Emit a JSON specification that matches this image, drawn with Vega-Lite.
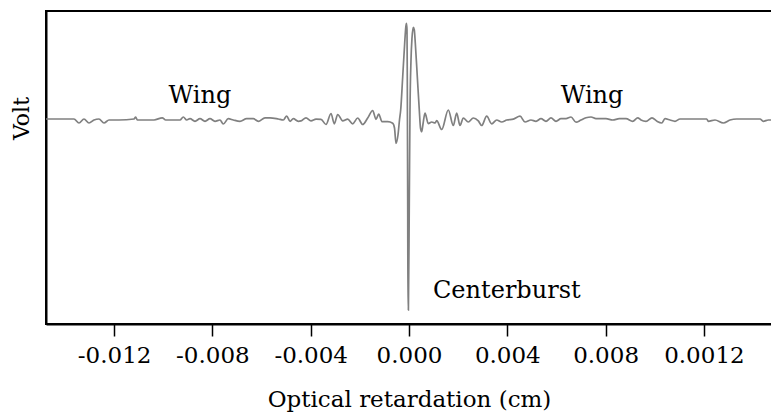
{
  "$schema": "https://vega.github.io/schema/vega-lite/v6.json",
  "width": 726,
  "height": 313,
  "autosize": {"type": "none"},
  "padding": {"left": 46, "top": 11, "right": 0, "bottom": 92},
  "background": "white",
  "config": {"view": {"stroke": "black", "strokeWidth": 2}, "font": "DejaVu Serif"},
  "layer": [
    {
      "data": {"values": [
        {"x": -0.014771, "v": 0.01}, {"x": -0.014718, "v": 0.01}, {"x": -0.013632, "v": 0.01},
        {"x": -0.013428, "v": -0.03}, {"x": -0.013225, "v": 0.01}, {"x": -0.013021, "v": -0.03},
        {"x": -0.012818, "v": 0}, {"x": -0.012615, "v": 0.01}, {"x": -0.012411, "v": -0.03},
        {"x": -0.012208, "v": 0}, {"x": -0.011801, "v": 0}, {"x": -0.01119, "v": 0.01},
        {"x": -0.011121, "v": 0.03}, {"x": -0.011056, "v": 0}, {"x": -0.010376, "v": 0},
        {"x": -0.010039, "v": 0.022}, {"x": -0.0099, "v": 0}, {"x": -0.009563, "v": 0},
        {"x": -0.009318, "v": 0}, {"x": -0.009184, "v": 0.03}, {"x": -0.009046, "v": 0},
        {"x": -0.008912, "v": 0.013}, {"x": -0.008708, "v": -0.013}, {"x": -0.008505, "v": 0.013},
        {"x": -0.008301, "v": -0.013}, {"x": -0.008098, "v": 0.013}, {"x": -0.007894, "v": -0.013},
        {"x": -0.007691, "v": 0}, {"x": -0.007557, "v": -0.04}, {"x": -0.007353, "v": 0.013},
        {"x": -0.00715, "v": 0}, {"x": -0.006877, "v": -0.013}, {"x": -0.006604, "v": 0.013},
        {"x": -0.006336, "v": 0.013}, {"x": -0.006132, "v": -0.013}, {"x": -0.00586, "v": 0.022},
        {"x": -0.005656, "v": 0.022}, {"x": -0.005318, "v": 0.01}, {"x": -0.005115, "v": 0},
        {"x": -0.004977, "v": 0.04}, {"x": -0.004842, "v": -0.013}, {"x": -0.004708, "v": 0.013},
        {"x": -0.004505, "v": -0.013}, {"x": -0.004395, "v": -0.009}, {"x": -0.004191, "v": 0.022},
        {"x": -0.003988, "v": -0.009}, {"x": -0.003784, "v": 0.009}, {"x": -0.003581, "v": 0.007},
        {"x": -0.003377, "v": -0.045}, {"x": -0.003174, "v": 0.065}, {"x": -0.00304, "v": -0.038},
        {"x": -0.002901, "v": 0.055}, {"x": -0.002698, "v": -0.009}, {"x": -0.002494, "v": 0.009},
        {"x": -0.002291, "v": -0.038}, {"x": -0.002087, "v": 0.02}, {"x": -0.001884, "v": -0.045},
        {"x": -0.001681, "v": 0.02}, {"x": -0.001477, "v": 0.095}, {"x": -0.001343, "v": 0.007},
        {"x": -0.001233, "v": 0.06}, {"x": -0.001099, "v": -0.017}, {"x": -0.000867, "v": -0.017},
        {"x": -0.000663, "v": -0.033}, {"x": -0.00059, "v": -0.08}, {"x": -0.000529, "v": -0.233},
        {"x": -0.000448, "v": -0.15}, {"x": -0.000387, "v": 0}, {"x": -0.000338, "v": 0.1},
        {"x": -0.000256, "v": 0.433}, {"x": -0.000175, "v": 0.77}, {"x": -0.00013, "v": 0.93},
        {"x": -0.000102, "v": 0.967}, {"x": -0.0000814, "v": 0.9}, {"x": -0.0000692, "v": 0.4},
        {"x": -0.0000529, "v": -0.8}, {"x": -0.0000407, "v": -1.9}, {"x": -0.0000244, "v": -1.9},
        {"x": 0.0000122, "v": -0.8}, {"x": 0.0000407, "v": 0.1}, {"x": 0.0000814, "v": 0.6},
        {"x": 0.000122, "v": 0.82}, {"x": 0.000175, "v": 0.927}, {"x": 0.000216, "v": 0.9},
        {"x": 0.000256, "v": 0.77}, {"x": 0.000338, "v": 0.433}, {"x": 0.000419, "v": 0.1},
        {"x": 0.000468, "v": -0.08}, {"x": 0.000517, "v": -0.117}, {"x": 0.00057, "v": -0.04},
        {"x": 0.000651, "v": 0.07}, {"x": 0.000785, "v": -0.036}, {"x": 0.000924, "v": -0.02},
        {"x": 0.001058, "v": -0.03}, {"x": 0.001127, "v": -0.007}, {"x": 0.001331, "v": -0.095},
        {"x": 0.001599, "v": 0.1}, {"x": 0.001803, "v": -0.055}, {"x": 0.001941, "v": 0.07},
        {"x": 0.002075, "v": -0.055}, {"x": 0.00221, "v": 0.02}, {"x": 0.002413, "v": -0.02},
        {"x": 0.002616, "v": 0.02}, {"x": 0.00282, "v": -0.009}, {"x": 0.002958, "v": -0.055},
        {"x": 0.003162, "v": 0.038}, {"x": 0.003365, "v": -0.038}, {"x": 0.003569, "v": 0},
        {"x": 0.003772, "v": -0.02}, {"x": 0.003976, "v": 0}, {"x": 0.004244, "v": 0.009},
        {"x": 0.004517, "v": 0.038}, {"x": 0.00472, "v": -0.02}, {"x": 0.004964, "v": 0},
        {"x": 0.005168, "v": -0.013}, {"x": 0.005371, "v": 0.013}, {"x": 0.005575, "v": -0.013},
        {"x": 0.005778, "v": 0.022}, {"x": 0.005982, "v": -0.013}, {"x": 0.006185, "v": 0.013},
        {"x": 0.006389, "v": 0.013}, {"x": 0.006592, "v": 0.03}, {"x": 0.006796, "v": -0.022},
        {"x": 0.006999, "v": 0}, {"x": 0.007202, "v": 0.022}, {"x": 0.007406, "v": 0.03},
        {"x": 0.007609, "v": 0.013}, {"x": 0.008016, "v": 0.013}, {"x": 0.008289, "v": 0},
        {"x": 0.008558, "v": 0.013}, {"x": 0.00883, "v": 0.013}, {"x": 0.009103, "v": -0.013},
        {"x": 0.009306, "v": 0.022}, {"x": 0.009441, "v": 0}, {"x": 0.009644, "v": -0.013},
        {"x": 0.009888, "v": 0.022}, {"x": 0.010092, "v": -0.013}, {"x": 0.010283, "v": -0.03},
        {"x": 0.010417, "v": 0.013}, {"x": 0.010621, "v": 0}, {"x": 0.010824, "v": -0.013},
        {"x": 0.011028, "v": 0.01}, {"x": 0.012114, "v": 0.01}, {"x": 0.012179, "v": -0.013},
        {"x": 0.012452, "v": 0}, {"x": 0.01279, "v": -0.03}, {"x": 0.013062, "v": 0},
        {"x": 0.013335, "v": 0.01}, {"x": 0.014283, "v": 0.01}, {"x": 0.014417, "v": -0.013},
        {"x": 0.014621, "v": 0}, {"x": 0.014771, "v": 0}
      ]},
      "mark": {"type": "line", "color": "#808080", "strokeWidth": 1.7, "interpolate": "monotone", "clip": true},
      "encoding": {
        "x": {
          "field": "x", "type": "quantitative",
          "scale": {"domain": [-0.014771, 0.014771], "nice": false, "zero": false},
          "axis": {
            "values": [-0.012, -0.008, -0.004, 0, 0.004, 0.008, 0.012],
            "labelExpr": "datum.value > 0.011 ? '0.0012' : (datum.value < 0 ? '-' + format(-datum.value, '.3f') : format(datum.value, '.3f'))",
            "grid": false,
            "domainColor": "black", "domainWidth": 2,
            "tickColor": "black", "tickWidth": 1.5, "tickSize": 12,
            "labelFont": "DejaVu Serif", "labelFontSize": 23, "labelColor": "black", "labelPadding": 8,
            "title": "Optical retardation (cm)",
            "titleFont": "DejaVu Serif", "titleFontSize": 23, "titleFontWeight": "normal", "titleColor": "black", "titlePadding": 21
          }
        },
        "y": {
          "field": "v", "type": "quantitative",
          "scale": {"domain": [-2.04, 1.09], "nice": false, "zero": false},
          "axis": {
            "labels": false, "ticks": false, "grid": false,
            "domainColor": "black", "domainWidth": 2,
            "title": "Volt",
            "titleFont": "DejaVu Serif", "titleFontSize": 22, "titleFontWeight": "normal", "titleColor": "black",
            "titleAngle": 270, "titleAlign": "center", "titleBaseline": "middle",
            "titleX": -25, "titleY": 107
          }
        }
      }
    },
    {
      "data": {"values": [
        {"x": -0.008505, "v": 0.17, "label": "Wing"},
        {"x": 0.007447, "v": 0.17, "label": "Wing"}
      ]},
      "mark": {"type": "text", "font": "DejaVu Serif", "fontSize": 24, "color": "black", "baseline": "alphabetic", "align": "center"},
      "encoding": {
        "x": {"field": "x", "type": "quantitative"},
        "y": {"field": "v", "type": "quantitative"},
        "text": {"field": "label"}
      }
    },
    {
      "data": {"values": [
        {"x": 0.000977, "v": -1.78, "label": "Centerburst"}
      ]},
      "mark": {"type": "text", "font": "DejaVu Serif", "fontSize": 24, "color": "black", "baseline": "alphabetic", "align": "left"},
      "encoding": {
        "x": {"field": "x", "type": "quantitative"},
        "y": {"field": "v", "type": "quantitative"},
        "text": {"field": "label"}
      }
    }
  ]
}
